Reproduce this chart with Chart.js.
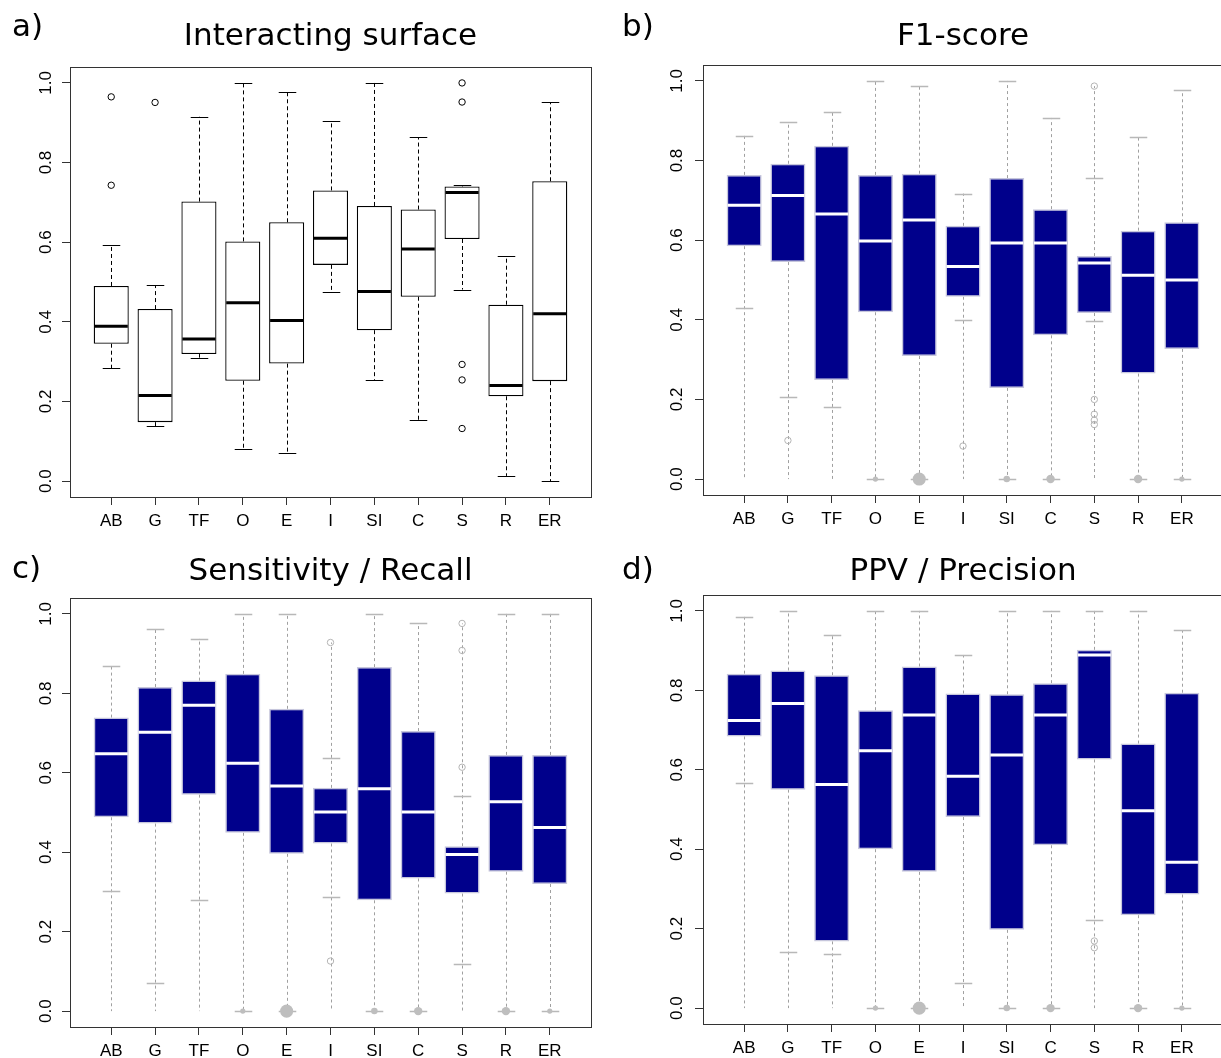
<!DOCTYPE html>
<html>
<head>
<meta charset="utf-8">
<script src="https://cdn.jsdelivr.net/npm/chart.js@4.4.1/dist/chart.umd.min.js"></script>
<style>
  html, body { margin: 0; padding: 0; background: #fff; overflow: hidden; }
  #page { position: relative; width: 1221px; height: 1058px; overflow: hidden; background: #fff; }
  canvas { position: absolute; }
</style>
</head>
<body>
<div id="page">
  <canvas id="panelA" width="610" height="529" style="left:0px;top:0px;width:610px;height:529px"></canvas>
  <canvas id="panelB" width="620" height="529" style="left:610px;top:0px;width:620px;height:529px"></canvas>
  <canvas id="panelC" width="610" height="529" style="left:0px;top:529px;width:610px;height:529px"></canvas>
  <canvas id="panelD" width="620" height="529" style="left:610px;top:529px;width:620px;height:529px"></canvas>
</div>
<script>
let categories = ['AB', 'G', 'TF', 'O', 'E', 'I', 'SI', 'C', 'S', 'R', 'ER'];
let yTicks = [0, 0.2, 0.4, 0.6, 0.8, 1.0];

// a) Interacting surface
let surfLow  = [0.284, 0.138, 0.310, 0.081, 0.070, 0.475, 0.254, 0.153, 0.481, 0.013, 0.000];
let surfQ1   = [0.345, 0.148, 0.319, 0.252, 0.295, 0.543, 0.379, 0.463, 0.608, 0.213, 0.251];
let surfMed  = [0.389, 0.215, 0.357, 0.448, 0.403, 0.610, 0.476, 0.583, 0.725, 0.240, 0.420];
let surfQ3   = [0.490, 0.432, 0.702, 0.602, 0.650, 0.730, 0.691, 0.682, 0.740, 0.443, 0.753];
let surfHigh = [0.592, 0.492, 0.915, 1.000, 0.977, 0.904, 1.000, 0.864, 0.743, 0.566, 0.952];
let surfOut  = [[0.965, 0.743], [0.951], [], [], [], [], [], [], [1.0, 0.952, 0.293, 0.254, 0.132], [], []];

// b) F1-score
let f1Low  = [0.430, 0.206, 0.182, 0, 0, 0.400, 0, 0, 0.398, 0, 0];
let f1Q1   = [0.585, 0.545, 0.249, 0.419, 0.309, 0.458, 0.229, 0.361, 0.417, 0.265, 0.327];
let f1Med  = [0.688, 0.712, 0.666, 0.598, 0.651, 0.534, 0.593, 0.593, 0.543, 0.512, 0.500];
let f1Q3   = [0.764, 0.792, 0.837, 0.764, 0.767, 0.636, 0.756, 0.678, 0.560, 0.624, 0.645];
let f1High = [0.862, 0.896, 0.923, 1.000, 0.988, 0.717, 1.000, 0.907, 0.755, 0.858, 0.976];
let f1Out  = [[], [0.097], [], [], [], [0.083], [], [], [0.987, 0.200, 0.163, 0.148, 0.137], [], []];

// c) Sensitivity / Recall
let recLow  = [0.302, 0.072, 0.279, 0, 0, 0.287, 0, 0, 0.118, 0, 0];
let recQ1   = [0.488, 0.472, 0.545, 0.449, 0.396, 0.422, 0.279, 0.334, 0.296, 0.351, 0.320];
let recMed  = [0.648, 0.702, 0.770, 0.624, 0.567, 0.501, 0.560, 0.501, 0.394, 0.527, 0.462];
let recQ3   = [0.739, 0.816, 0.832, 0.849, 0.761, 0.562, 0.866, 0.705, 0.415, 0.645, 0.645];
let recHigh = [0.870, 0.963, 0.938, 1.000, 1.000, 0.636, 1.000, 0.976, 0.541, 1.000, 1.000];
let recOut  = [[], [], [], [], [], [0.928, 0.126], [], [], [0.976, 0.908, 0.614], [], []];

// d) PPV / Precision
let ppvLow  = [0.566, 0.140, 0.136, 0, 0, 0.063, 0, 0, 0.221, 0, 0];
let ppvQ1   = [0.684, 0.550, 0.168, 0.400, 0.343, 0.481, 0.197, 0.410, 0.626, 0.234, 0.286];
let ppvMed  = [0.724, 0.767, 0.563, 0.648, 0.738, 0.584, 0.637, 0.738, 0.889, 0.497, 0.367];
let ppvQ3   = [0.842, 0.850, 0.838, 0.750, 0.860, 0.792, 0.790, 0.818, 0.902, 0.666, 0.794];
let ppvHigh = [0.985, 1.000, 0.939, 1.000, 1.000, 0.889, 1.000, 1.000, 1.000, 1.000, 0.951];
let ppvOut  = [[], [], [], [], [], [], [], [], [0.169, 0.152], [], []];

// scores go down to 0 everywhere in b-d, with some ties at 0 (dot size)
let scoreMin   = [0, 0, 0, 0, 0, 0, 0, 0, 0, 0, 0];
let zeroCounts = [0, 0, 0, 1, 12, 0, 2, 4, 0, 4, 1];

let tickFont = { family: 'Liberation Sans', size: 17 };

// whiskers, caps, medians, frame and panel letter
function boxParts(s) {
  return {
    id: 'boxParts',
    beforeDatasetsDraw(chart) {
      let ctx = chart.ctx;
      let x = chart.scales.x, y = chart.scales.y;
      let capHalf = (x.getPixelForValue(2) - x.getPixelForValue(1)) * 0.8 / 4;
      ctx.save();
      for (let i = 0; i < categories.length; i++) {
        let px = Math.round(x.getPixelForValue(i + 1)) + 0.5;
        let top = s.high[i], bottom = s.low[i];
        if (s.min) {
          top = Math.max(s.high[i], ...s.out[i]);
          bottom = s.min[i];
        }
        ctx.setLineDash(s.dash);
        ctx.strokeStyle = s.whisker;
        ctx.lineWidth = 1;
        ctx.beginPath();
        ctx.moveTo(px, y.getPixelForValue(s.q3[i]));
        ctx.lineTo(px, y.getPixelForValue(top));
        ctx.moveTo(px, y.getPixelForValue(s.q1[i]));
        ctx.lineTo(px, y.getPixelForValue(bottom));
        ctx.stroke();
        ctx.setLineDash([]);
        ctx.strokeStyle = s.cap;
        ctx.lineWidth = s.capWidth;
        ctx.beginPath();
        [s.low[i], s.high[i]].forEach(v => {
          let py = Math.round(y.getPixelForValue(v)) + 0.5;
          ctx.moveTo(px - capHalf, py);
          ctx.lineTo(px + capHalf, py);
        });
        ctx.stroke();
      }
      ctx.restore();
    },
    afterDatasetsDraw(chart) {
      let ctx = chart.ctx;
      let x = chart.scales.x, y = chart.scales.y;
      let half = (x.getPixelForValue(2) - x.getPixelForValue(1)) * 0.8 / 2;
      ctx.save();
      ctx.strokeStyle = s.median;
      ctx.lineWidth = 3;
      ctx.beginPath();
      for (let i = 0; i < categories.length; i++) {
        let px = x.getPixelForValue(i + 1);
        let py = y.getPixelForValue(s.med[i]);
        ctx.moveTo(px - half + 1, py);
        ctx.lineTo(px + half - 1, py);
      }
      ctx.stroke();
      ctx.restore();
    },
    afterDraw(chart) {
      let ctx = chart.ctx;
      let a = chart.chartArea;
      ctx.save();
      ctx.strokeStyle = '#333';
      ctx.lineWidth = 1;
      ctx.strokeRect(Math.round(a.left) + 0.5, Math.round(a.top) + 0.5,
                     Math.round(a.right - a.left), Math.round(a.bottom - a.top));
      ctx.fillStyle = '#000';
      ctx.font = '31px "DejaVu Sans"';
      ctx.textBaseline = 'middle';
      ctx.textAlign = 'left';
      ctx.fillText(s.letter, 12, s.letterY);
      ctx.restore();
    }
  };
}

function makeChart(id, s) {
  let datasets = [{
    type: 'bar',
    data: categories.map((c, i) => ({ x: i + 1, y: [s.q1[i], s.q3[i]] })),
    backgroundColor: s.fill,
    borderColor: s.edge,
    borderWidth: s.edgeWidth,
    borderSkipped: false,
    categoryPercentage: 0.8,
    barPercentage: 1
  }, {
    type: 'scatter',
    data: s.out.flatMap((vals, i) => vals.map(v => ({ x: i + 1, y: v }))),
    pointRadius: 3.2,
    pointBackgroundColor: 'rgba(0,0,0,0)',
    pointBorderColor: s.outColor,
    pointBorderWidth: 1
  }];
  if (s.zeros) {
    datasets.push({
      type: 'scatter',
      data: categories.map((c, i) => ({ x: i + 1, y: 0, n: s.zeros[i] })).filter(p => p.n > 0),
      pointRadius: ctx => 1 + 1.6 * Math.sqrt(ctx.raw.n),
      pointBackgroundColor: '#bebebe',
      pointBorderWidth: 0
    });
  }

  new Chart(document.getElementById(id), {
    type: 'bar',
    data: { datasets: datasets },
    plugins: [boxParts(s)],
    options: {
      responsive: false,
      animation: false,
      events: [],
      layout: { padding: { left: 0, right: s.padRight, top: 0, bottom: 0 } },
      plugins: {
        legend: { display: false },
        tooltip: { enabled: false },
        title: {
          display: true,
          text: s.title,
          fullSize: false,
          color: '#000',
          font: { family: 'DejaVu Sans', size: 31, weight: 'normal', lineHeight: 1.2 },
          padding: { top: s.titleTop, bottom: s.titleBottom }
        }
      },
      scales: {
        x: {
          type: 'linear',
          min: 0.06,
          max: 11.94,
          offset: false,
          afterBuildTicks: sc => { sc.ticks = categories.map((c, i) => ({ value: i + 1 })); },
          afterFit: sc => { sc.height = s.xAxisH; },
          ticks: {
            autoSkip: false, maxRotation: 0, minRotation: 0, padding: 6,
            color: '#000', font: tickFont,
            callback: v => categories[Math.round(v) - 1]
          },
          grid: { offset: false, drawOnChartArea: false, drawTicks: true, tickLength: 8, color: '#333' },
          border: { display: false }
        },
        y: {
          type: 'linear',
          min: -0.04,
          max: 1.04,
          afterBuildTicks: sc => { sc.ticks = yTicks.map(v => ({ value: v })); },
          afterFit: sc => { sc.width = s.yAxisW; },
          ticks: {
            minRotation: 90, maxRotation: 90, crossAlign: 'center', padding: s.yPad,
            color: '#000', font: tickFont,
            callback: v => v.toFixed(1)
          },
          grid: { drawOnChartArea: false, drawTicks: true, tickLength: 8, color: '#333' },
          border: { display: false }
        }
      }
    }
  });
}

let plainBox = { fill: '#ffffff', edge: '#000', edgeWidth: 1.3, median: '#000', whisker: '#000',
                 cap: '#000', capWidth: 1, dash: [4, 3], outColor: '#000' };
let blueBox  = { fill: '#00008b', edge: '#c6c6dc', edgeWidth: 1.5, median: '#ffffff', whisker: '#a0a0a0',
                 cap: '#b8b8b8', capWidth: 1.5, dash: [3, 3], outColor: '#b4b4b4' };

makeChart('panelA', Object.assign({}, plainBox, {
  title: 'Interacting surface', letter: 'a)', letterY: 28,
  low: surfLow, q1: surfQ1, med: surfMed, q3: surfQ3, high: surfHigh, out: surfOut,
  yAxisW: 70, xAxisH: 32, padRight: 19, titleTop: 18.4, titleBottom: 11.4, yPad: 3.5
}));

makeChart('panelB', Object.assign({}, blueBox, {
  title: 'F1-score', letter: 'b)', letterY: 28,
  low: f1Low, q1: f1Q1, med: f1Med, q3: f1Q3, high: f1High, out: f1Out,
  min: scoreMin, zeros: zeroCounts,
  yAxisW: 93, xAxisH: 34, padRight: 7, titleTop: 18.4, titleBottom: 9.4, yPad: 6
}));

makeChart('panelC', Object.assign({}, blueBox, {
  title: 'Sensitivity / Recall', letter: 'c)', letterY: 41,
  low: recLow, q1: recQ1, med: recMed, q3: recQ3, high: recHigh, out: recOut,
  min: scoreMin, zeros: zeroCounts,
  yAxisW: 70, xAxisH: 31, padRight: 19, titleTop: 24.4, titleBottom: 7.4, yPad: 3.5
}));

makeChart('panelD', Object.assign({}, blueBox, {
  title: 'PPV / Precision', letter: 'd)', letterY: 42,
  low: ppvLow, q1: ppvQ1, med: ppvMed, q3: ppvQ3, high: ppvHigh, out: ppvOut,
  min: scoreMin, zeros: zeroCounts,
  yAxisW: 93, xAxisH: 34, padRight: 7, titleTop: 24.4, titleBottom: 4.4, yPad: 6
}));
</script>
</body>
</html>
